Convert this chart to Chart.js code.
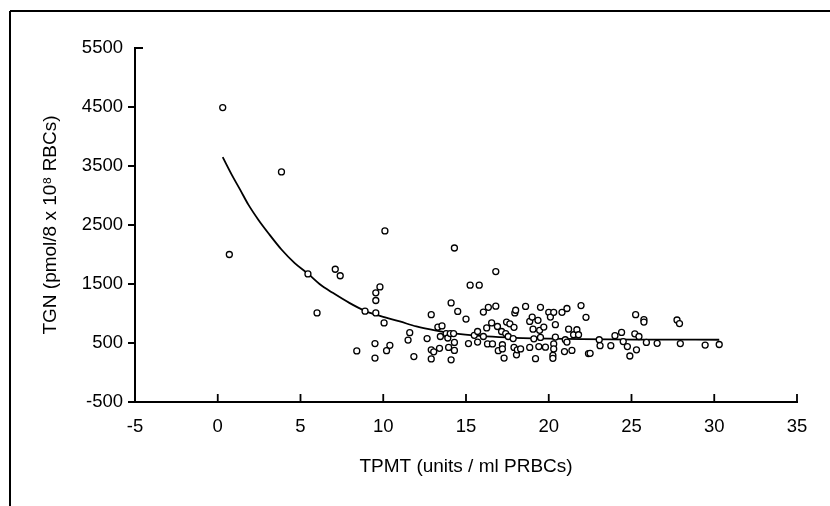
<!DOCTYPE html>
<html>
<head>
<meta charset="utf-8">
<script src="https://cdn.jsdelivr.net/npm/chart.js@4/dist/chart.umd.min.js"></script>
<style>
  html, body { margin: 0; padding: 0; background: #fff; }
  #wrap { width: 830px; height: 506px; }
</style>
</head>
<body>
<div id="wrap"><canvas id="tgnChart"></canvas></div>
<script>
// TPMT activity (units/ml PRBCs) per patient
const tpmt = [
  0.3, 0.7, 3.85, 5.45, 6.0, 7.1, 7.4, 8.4, 8.9, 9.5, 9.5, 9.55, 9.55, 9.55, 9.8,
  10.05, 10.1, 10.2, 10.4, 11.5, 11.6, 11.85, 12.65, 12.9, 12.9, 12.9, 13.05, 13.3,
  13.4, 13.45, 13.55, 13.8, 13.9, 13.95, 14.05, 14.1, 14.1, 14.25, 14.3, 14.3, 14.3,
  14.5, 15.0, 15.15, 15.25, 15.5, 15.7, 15.7, 15.8, 16.05, 16.05, 16.25, 16.3, 16.35,
  16.55, 16.6, 16.8, 16.8, 16.9, 16.95, 17.15, 17.2, 17.2, 17.3, 17.4, 17.45, 17.55,
  17.65, 17.85, 17.9, 17.9, 17.95, 18.0, 18.05, 18.1, 18.3, 18.6, 18.85, 18.85, 19.0,
  19.05, 19.1, 19.2, 19.35, 19.4, 19.45, 19.5, 19.5, 19.7, 19.8, 20.0, 20.1, 20.25,
  20.25, 20.3, 20.3, 20.3, 20.4, 20.4, 20.8, 20.95, 21.0, 21.1, 21.1, 21.2, 21.4,
  21.5, 21.7, 21.8, 21.95, 22.25, 22.4, 22.5, 23.05, 23.1, 23.75, 24.0, 24.4, 24.5,
  24.75, 24.9, 25.2, 25.25, 25.3, 25.45, 25.75, 25.75, 25.9, 26.55, 27.75, 27.9,
  27.95, 29.45, 30.3
];
// TGN concentration (pmol/8x10^8 RBCs), same order as tpmt
const tgn = [
  4490, 2000, 3400, 1670, 1010, 1750, 1640, 365, 1040, 490, 245, 1010, 1220, 1350, 1450,
  840, 2400, 370, 460, 550, 675, 270, 575, 980, 385, 230, 350, 770,
  410, 610, 790, 660, 585, 425, 660, 1180, 215, 660, 2110, 510, 375,
  1035, 905, 490, 1480, 630, 695, 515, 1480, 1025, 610, 755, 485, 1105,
  840, 485, 1710, 1125, 780, 370, 695, 470, 400, 245, 660, 855, 610,
  825, 575, 765, 425, 1010, 1055, 300, 385, 400, 1120, 865, 425, 940,
  735, 570, 235, 885, 440, 715, 1105, 595, 770, 430, 1020, 940, 290,
  240, 1020, 485, 400, 810, 600, 1020, 355, 555, 1085, 515, 735, 375,
  640, 725, 640, 1135, 935, 320, 325, 555, 455, 455, 625, 680, 525,
  440, 280, 655, 980, 385, 610, 895, 855, 510, 495, 890, 830,
  490, 465, 475
];

// fitted curve
const fitX = [0.3, 0.85, 1.35, 1.85, 2.45, 3.05, 3.85, 4.65, 5.45, 6.15, 6.95, 7.95, 8.85, 9.6, 11, 12, 13.2, 14.4, 15.6, 17, 19, 22, 26, 30.3];
const fitY = [3650, 3350, 3100, 2845, 2590, 2365, 2085, 1855, 1675, 1500, 1350, 1180, 1050, 975, 865, 780, 710, 658, 624, 600, 580, 565, 558, 555];

const xTicks = [-5, 0, 5, 10, 15, 20, 25, 30, 35];
const yTicks = [-500, 500, 1500, 2500, 3500, 4500, 5500];

Chart.defaults.font.family = "'Liberation Sans', Arial, sans-serif";
Chart.defaults.font.size = 18.5;
Chart.defaults.color = "#000";

// page frame + tick marks (x ticks point inward, like the original)
const frameAndTicks = {
  id: "frameAndTicks",
  afterDraw(chart) {
    const ctx = chart.ctx;
    const xs = chart.scales.x;
    const ys = chart.scales.y;
    ctx.save();
    ctx.strokeStyle = "#000";
    ctx.lineWidth = 2;
    ctx.beginPath();
    ctx.moveTo(10, 11);
    ctx.lineTo(830, 11);
    ctx.moveTo(10, 11);
    ctx.lineTo(10, 506);
    ctx.stroke();

    ctx.lineWidth = 1.8;
    ctx.beginPath();
    xTicks.forEach((v) => {
      const px = xs.getPixelForValue(v);
      ctx.moveTo(px, xs.top);
      ctx.lineTo(px, xs.top - 8);
    });
    yTicks.forEach((v, i) => {
      const py = ys.getPixelForValue(v);
      if (i === yTicks.length - 1) {
        ctx.moveTo(ys.right, py);
        ctx.lineTo(ys.right + 8, py);
      } else {
        ctx.moveTo(ys.right - 7, py);
        ctx.lineTo(ys.right, py);
      }
    });
    ctx.stroke();
    ctx.restore();
  },
};

const ctx = document.getElementById("tgnChart").getContext("2d");
new Chart(ctx, {
  type: "scatter",
  data: {
    datasets: [
      {
        label: "Patients",
        data: tpmt.map((x, i) => ({ x: x, y: tgn[i] })),
        pointRadius: 3,
        pointBorderWidth: 1.3,
        pointBorderColor: "#000",
        pointBackgroundColor: "#fff",
        order: 0,
      },
      {
        label: "Fit",
        type: "line",
        data: fitX.map((x, i) => ({ x: x, y: fitY[i] })),
        borderColor: "#000",
        borderWidth: 1.8,
        pointRadius: 0,
        fill: false,
        cubicInterpolationMode: "monotone",
        order: 1,
      },
    ],
  },
  options: {
    responsive: true,
    maintainAspectRatio: false,
    animation: false,
    layout: { padding: { top: 48, right: 33, left: 0, bottom: 0 } },
    plugins: {
      legend: { display: false },
      tooltip: { enabled: false },
    },
    scales: {
      x: {
        type: "linear",
        min: -5,
        max: 35,
        ticks: { stepSize: 5, padding: 14, maxRotation: 0, callback: (v) => String(v) },
        grid: { display: true, drawOnChartArea: false, drawTicks: false },
        border: { display: true, color: "#000", width: 2 },
        title: {
          display: true,
          text: "TPMT (units / ml PRBCs)",
          font: { size: 19 },
          padding: { top: 0, bottom: 28 },
        },
        afterFit: (scale) => { scale.height = 104; },
      },
      y: {
        type: "linear",
        min: -500,
        max: 5500,
        ticks: { stepSize: 1000, padding: 12, callback: (v) => String(v) },
        grid: { display: true, drawOnChartArea: false, drawTicks: false },
        border: { display: true, color: "#000", width: 2 },
        title: {
          display: true,
          text: "TGN (pmol/8 x 10\u2078 RBCs)",
          font: { size: 19 },
          padding: { top: 39, bottom: 0 },
        },
        afterFit: (scale) => { scale.width = 135; },
      },
    },
  },
  plugins: [frameAndTicks],
});
</script>
</body>
</html>
